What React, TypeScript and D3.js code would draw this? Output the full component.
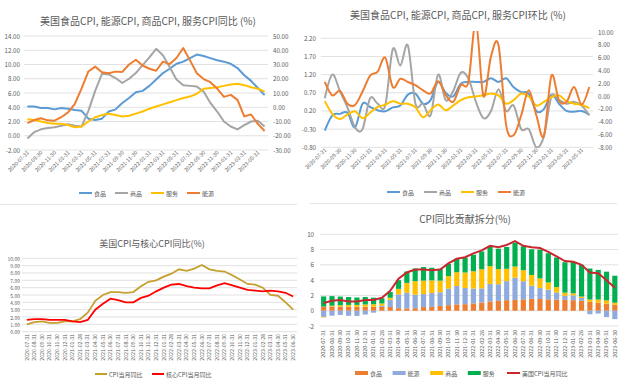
import React from "react";
import * as d3 from "d3";

const dates = [
  "2020-07-31", "2020-08-31", "2020-09-30", "2020-10-31", "2020-11-30", "2020-12-31",
  "2021-01-31", "2021-02-28", "2021-03-31", "2021-04-30", "2021-05-31", "2021-06-30",
  "2021-07-31", "2021-08-31", "2021-09-30", "2021-10-31", "2021-11-30", "2021-12-31",
  "2022-01-31", "2022-02-28", "2022-03-31", "2022-04-30", "2022-05-31", "2022-06-30",
  "2022-07-31", "2022-08-31", "2022-09-30", "2022-10-31", "2022-11-30", "2022-12-31",
  "2023-01-31", "2023-02-28", "2023-03-31", "2023-04-30", "2023-05-31", "2023-06-30",
];

// Top-left: YoY (%)
const foodYoY = [4.1, 4.1, 3.9, 3.9, 3.7, 3.9, 3.8, 3.6, 3.5, 2.4, 2.2, 2.4, 3.4, 3.7, 4.6, 5.3, 6.1, 6.3, 7.0, 7.9, 8.8, 9.4, 10.1, 10.4, 10.9, 11.4, 11.2, 10.9, 10.6, 10.4, 10.1, 9.5, 8.5, 7.7, 6.7, 5.7];
const goodsYoY = [-0.4, 0.5, 0.9, 1.1, 1.2, 1.4, 1.6, 1.4, 1.3, 3.5, 6.3, 8.7, 8.6, 8.1, 7.4, 8.0, 8.8, 9.9, 11.0, 12.2, 11.3, 9.6, 7.9, 7.1, 7.0, 6.9, 6.2, 4.6, 3.4, 2.0, 1.3, 0.9, 1.5, 2.0, 2.1, 1.3];
const servYoY = [2.3, 2.2, 2.0, 1.8, 1.7, 1.7, 1.5, 1.2, 1.3, 2.0, 2.6, 2.9, 3.1, 2.9, 2.7, 2.8, 3.1, 3.4, 3.8, 4.1, 4.4, 4.7, 5.0, 5.3, 5.5, 5.9, 6.6, 6.7, 6.8, 7.0, 7.2, 7.3, 7.1, 6.8, 6.6, 6.2];
const energyYoY = [-11.2, -9.0, -7.7, -9.2, -9.4, -7.0, -3.6, 2.4, 13.2, 25.1, 28.5, 24.5, 23.8, 25.0, 24.8, 30.0, 33.3, 29.3, 27.0, 25.6, 32.0, 30.3, 34.6, 41.6, 32.9, 23.8, 19.8, 17.6, 13.1, 7.3, 8.7, 5.2, -6.4, -5.1, -11.7, -16.7];

// Top-right: MoM (%)
const foodMoM = [-0.34, 0.08, 0.12, 0.15, -0.25, 0.4, 0.31, 0.22, 0.19, 0.3, 0.35, 0.65, 0.68, 0.4, 0.5, 1.0, 0.7, 0.6, 0.95, 1.0, 1.0, 1.0, 1.1, 1.0, 1.1, 0.85, 0.72, 0.68, 0.2, 0.25, 0.65, 0.4, 0.2, 0.18, 0.2, 0.1];
const goodsMoM = [0.55, 1.2, 0.75, 0.3, -0.25, -0.3, 0.55, 0.4, 0.35, 1.9, 1.45, 2.0, 0.4, 0.4, 0.08, 1.2, 0.5, 0.75, 1.25, 1.1, 0.45, 0.0, 0.2, 0.8, 0.2, 0.35, -0.3, -0.3, -0.8, -0.5, 0.6, 0.5, 0.4, 0.45, 0.35, 0.08];
const servMoM = [0.47, 0.12, -0.02, 0.1, 0.19, 0.0, 0.15, 0.31, 0.37, 0.47, 0.4, 0.4, 0.3, 0.03, 0.22, 0.38, 0.22, 0.35, 0.5, 0.58, 0.6, 0.63, 0.68, 0.63, 0.4, 0.5, 0.68, 0.6, 0.35, 0.45, 0.58, 0.63, 0.47, 0.4, 0.37, 0.28];
const energyMoM = [2.2, 0.1, 0.8, -1.2, -1.4, 0.7, 3.2, 3.8, 6.0, 1.4, 2.7, 2.2, 1.7, 0.9, 0.4, 2.3, 0.2, -0.9, 1.7, 2.2, 11.5, 0.0, 6.2, 7.9, -4.5, -6.1, -3.0, 0.9, -3.0, -6.2, 3.2, -0.7, -0.9, 1.4, -1.3, 1.4];

// Bottom-left: CPI and core CPI YoY (%)
const cpiYoY = [1.0, 1.3, 1.4, 1.2, 1.2, 1.4, 1.4, 1.7, 2.6, 4.2, 5.0, 5.4, 5.4, 5.3, 5.4, 6.2, 6.8, 7.0, 7.5, 7.9, 8.5, 8.3, 8.6, 9.1, 8.5, 8.3, 8.2, 7.7, 7.1, 6.5, 6.4, 6.0, 5.0, 4.9, 4.0, 3.0];
const coreYoY = [1.6, 1.7, 1.7, 1.6, 1.6, 1.6, 1.4, 1.3, 1.6, 3.0, 3.8, 4.5, 4.3, 4.0, 4.0, 4.6, 4.9, 5.5, 6.0, 6.4, 6.5, 6.2, 6.0, 5.9, 5.9, 6.3, 6.6, 6.3, 6.0, 5.7, 5.6, 5.5, 5.6, 5.5, 5.3, 4.8];

// Bottom-right: contributions (pct pts)
const contribFood = [0.56, 0.56, 0.53, 0.53, 0.51, 0.53, 0.52, 0.49, 0.48, 0.33, 0.30, 0.33, 0.47, 0.51, 0.63, 0.73, 0.84, 0.86, 0.96, 1.08, 1.21, 1.29, 1.38, 1.42, 1.49, 1.56, 1.53, 1.49, 1.45, 1.42, 1.38, 1.30, 1.16, 1.05, 0.92, 0.78];
const contribEnergy = [-0.81, -0.65, -0.55, -0.66, -0.68, -0.50, -0.26, 0.17, 0.95, 1.81, 2.05, 1.76, 1.71, 1.80, 1.79, 2.16, 2.40, 2.11, 1.94, 1.84, 2.30, 2.18, 2.49, 2.90, 2.37, 1.71, 1.43, 1.27, 0.94, 0.53, 0.63, 0.37, -0.46, -0.37, -0.84, -1.10];
const contribGoods = [-0.08, 0.10, 0.18, 0.23, 0.25, 0.29, 0.33, 0.29, 0.27, 0.72, 1.29, 1.78, 1.76, 1.66, 1.52, 1.64, 1.80, 2.03, 2.26, 2.50, 2.32, 1.97, 1.62, 1.46, 1.44, 1.41, 1.27, 0.94, 0.70, 0.41, 0.27, 0.18, 0.31, 0.41, 0.43, 0.27];
const contribServ = [1.31, 1.25, 1.14, 1.03, 0.97, 0.97, 0.86, 0.68, 0.74, 1.14, 1.48, 1.65, 1.77, 1.65, 1.54, 1.60, 1.77, 1.94, 2.17, 2.34, 2.51, 2.68, 2.85, 3.12, 3.14, 3.36, 3.76, 3.82, 3.88, 3.99, 4.10, 4.16, 4.05, 3.88, 3.76, 3.53];

const FONT = "'Noto Sans CJK SC', 'Noto Sans', 'Liberation Sans', sans-serif";
const TXT = "#595959";
const GRID = "#D9D9D9";
const BLUE = "#5B9BD5";
const GRAY = "#A5A5A5";
const YELLOW = "#FFC000";
const ORANGE = "#ED7D31";
const GOLD = "#C5A02F";
const RED = "#FF0000";
const LBLUE = "#8FAADC";
const GREEN = "#00B050";
const DRED = "#C8282D";

type Series = { name: string; data: number[]; color: string; right: boolean };

function LineLegend({ items, x0, step, y }: { items: { name: string; color: string }[]; x0: number; step: number; y: number }) {
  return (
    <g>
      {items.map((it, k) => (
        <g key={it.name} transform={`translate(${x0 + k * step},${y})`}>
          <line x1={0} x2={13} y1={0} y2={0} stroke={it.color} strokeWidth={2} />
          <text x={15} y={0} dominantBaseline="central" fontSize={6} fill={TXT}>{it.name}</text>
        </g>
      ))}
    </g>
  );
}

function DualChart(props: {
  title: string; titleX: number; titleY: number;
  px0: number; px1: number; top: number; bottom: number;
  leftDomain: [number, number]; leftTop: number; leftTicks: number[];
  rightDomain: [number, number]; rightTicks: number[];
  leftLabelX: number; rightLabelX: number;
  series: Series[]; smooth: boolean; clipId: string;
  legendX: number; legendStep: number; legendY: number;
}) {
  const p = props;
  const x = d3.scaleBand<string>().domain(dates).range([p.px0, p.px1]);
  const cx = (i: number) => (x(dates[i]) as number) + x.bandwidth() / 2;
  const yL = d3.scaleLinear().domain(p.leftDomain).range([p.bottom, p.leftTop]);
  const yR = d3.scaleLinear().domain(p.rightDomain).range([p.bottom, p.top]);
  const curve = p.smooth ? d3.curveCardinal.tension(0) : d3.curveLinear;
  const mk = (y: d3.ScaleLinear<number, number>) =>
    d3.line<number>().x((_, i) => cx(i)).y((d) => y(d)).curve(curve);
  const lL = mk(yL);
  const lR = mk(yR);
  return (
    <g>
      <defs>
        <clipPath id={p.clipId}>
          <rect x={p.px0} y={p.top - 1} width={p.px1 - p.px0} height={p.bottom - p.top + 2} />
        </clipPath>
      </defs>
      <text x={p.titleX} y={p.titleY} textAnchor="middle" fontSize={10} fill={TXT}>{p.title}</text>
      {p.leftTicks.map((t) => (
        <g key={"l" + t}>
          <line x1={p.px0} x2={p.px1} y1={yL(t)} y2={yL(t)} stroke={GRID} strokeWidth={0.8} />
          <text x={p.leftLabelX} y={yL(t)} textAnchor="end" dominantBaseline="central" fontSize={6.2} fill={TXT}>{t.toFixed(2)}</text>
        </g>
      ))}
      {p.rightTicks.map((t) => (
        <text key={"r" + t} x={p.rightLabelX} y={yR(t)} dominantBaseline="central" fontSize={6.2} fill={TXT}>{t.toFixed(2)}</text>
      ))}
      {dates.map((d, i) => i % 2 === 0 ? (
        <text key={d} transform={`translate(${cx(i) + 2},${p.bottom + 3}) rotate(-45)`} textAnchor="end" fontSize={5.3} fill={TXT}>{d}</text>
      ) : null)}
      <g clipPath={`url(#${p.clipId})`}>
        {p.series.map((s) => (
          <path key={s.name} d={(s.right ? lR : lL)(s.data) || ""} fill="none" stroke={s.color} strokeWidth={2} strokeLinejoin="round" />
        ))}
      </g>
      <LineLegend items={p.series.map((s) => ({ name: s.name, color: s.color }))} x0={p.legendX} step={p.legendStep} y={p.legendY} />
    </g>
  );
}

function BottomLeft() {
  const x = d3.scaleBand<string>().domain(dates).range([23, 297]);
  const cx = (i: number) => (x(dates[i]) as number) + x.bandwidth() / 2;
  const y = d3.scaleLinear().domain([0, 10]).range([331.7, 258.3]);
  const line = d3.line<number>().x((_, i) => cx(i)).y((d) => y(d));
  const ticks = d3.range(0, 10.01, 1);
  return (
    <g>
      <text x={152} y={246.5} textAnchor="middle" fontSize={9} fill={TXT}>美国CPI与核心CPI同比(%)</text>
      {ticks.map((t) => (
        <g key={t}>
          <line x1={22} x2={297} y1={y(t)} y2={y(t)} stroke={GRID} strokeWidth={0.8} />
          <text x={20} y={y(t)} textAnchor="end" dominantBaseline="central" fontSize={5} fill={TXT}>{t.toFixed(2)}</text>
        </g>
      ))}
      {dates.map((d, i) => (
        <text key={d} transform={`translate(${cx(i) + 1.8},${334}) rotate(-90)`} textAnchor="end" fontSize={5.2} fill={TXT}>{d}</text>
      ))}
      <path d={line(cpiYoY) || ""} fill="none" stroke={GOLD} strokeWidth={1.8} />
      <path d={line(coreYoY) || ""} fill="none" stroke={RED} strokeWidth={1.8} />
      <g transform="translate(95,374)">
        <line x1={0} x2={12} stroke={GOLD} strokeWidth={2} />
        <text x={14} dominantBaseline="central" fontSize={6} fill={TXT}>CPI当月同比</text>
      </g>
      <g transform="translate(152,374)">
        <line x1={0} x2={12} stroke={RED} strokeWidth={2} />
        <text x={14} dominantBaseline="central" fontSize={6} fill={TXT}>核心CPI当月同比</text>
      </g>
    </g>
  );
}

function BottomRight() {
  const x = d3.scaleBand<string>().domain(dates).range([319.5, 619]).paddingInner(0.38).paddingOuter(0.19);
  const cx = (i: number) => (x(dates[i]) as number) + x.bandwidth() / 2;
  const y = d3.scaleLinear().domain([-2, 10]).range([326, 234.3]);
  const keys = ["食品", "能源", "商品", "服务"];
  const colors = [ORANGE, LBLUE, YELLOW, GREEN];
  const rows = dates.map((d, i) => ({
    date: d, 食品: contribFood[i], 能源: contribEnergy[i], 商品: contribGoods[i], 服务: contribServ[i],
  }));
  const stack = d3.stack<any>().keys(keys).offset(d3.stackOffsetDiverging);
  const layers = stack(rows);
  const line = d3.line<number>().x((_, i) => cx(i)).y((d) => y(d));
  const ticks = d3.range(-2, 10.01, 2);
  return (
    <g>
      <text x={465} y={222.5} textAnchor="middle" fontSize={10} fill={TXT}>CPI同比贡献拆分(%)</text>
      {ticks.map((t) => (
        <g key={t}>
          <line x1={320} x2={618} y1={y(t)} y2={y(t)} stroke={GRID} strokeWidth={0.8} />
          <text x={314} y={y(t)} textAnchor="end" dominantBaseline="central" fontSize={6.2} fill={TXT}>{t}</text>
        </g>
      ))}
      {layers.map((layer, k) => (
        <g key={keys[k]} fill={colors[k]}>
          {layer.map((seg, i) => (
            <rect key={i} x={x(dates[i]) as number} width={x.bandwidth()}
              y={y(Math.max(seg[0], seg[1]))} height={Math.abs(y(seg[0]) - y(seg[1]))} />
          ))}
        </g>
      ))}
      <path d={line(cpiYoY) || ""} fill="none" stroke={DRED} strokeWidth={2} />
      {dates.map((d, i) => (
        <text key={d} transform={`translate(${cx(i) + 1.8},${330}) rotate(-90)`} textAnchor="end" fontSize={5.4} fill={TXT}>{d}</text>
      ))}
      {keys.map((k, j) => (
        <g key={k} transform={`translate(${355 + j * 37.6},373)`}>
          <rect x={0} y={-2} width={13} height={4} fill={colors[j]} />
          <text x={15} dominantBaseline="central" fontSize={6} fill={TXT}>{k}</text>
        </g>
      ))}
      <g transform="translate(507,373)">
        <line x1={0} x2={13} stroke={DRED} strokeWidth={2} />
        <text x={15} dominantBaseline="central" fontSize={6} fill={TXT}>美国CPI当月同比</text>
      </g>
    </g>
  );
}

export default function App() {
  const tlSeries: Series[] = [
    { name: "食品", data: foodYoY, color: BLUE, right: false },
    { name: "商品", data: goodsYoY, color: GRAY, right: false },
    { name: "服务", data: servYoY, color: YELLOW, right: false },
    { name: "能源", data: energyYoY, color: ORANGE, right: true },
  ];
  const trSeries: Series[] = [
    { name: "食品", data: foodMoM, color: BLUE, right: false },
    { name: "商品", data: goodsMoM, color: GRAY, right: false },
    { name: "服务", data: servMoM, color: YELLOW, right: false },
    { name: "能源", data: energyMoM, color: ORANGE, right: true },
  ];
  return (
    <svg width={627} height={382} style={{ position: "absolute", left: 0, top: 0 }} fontFamily={FONT}>
      <rect width={627} height={382} fill="#fff" />
      <DualChart
        title="美国食品CPI, 能源CPI, 商品CPI, 服务CPI同比 (%)" titleX={148} titleY={24.5}
        px0={24} px1={268} top={36} bottom={150}
        leftDomain={[-2, 14]} leftTop={36} leftTicks={d3.range(-2, 14.01, 2)}
        rightDomain={[-30, 50]} rightTicks={d3.range(-30, 50.01, 10)}
        leftLabelX={20} rightLabelX={273}
        series={tlSeries} smooth={false} clipId="clipTL"
        legendX={79} legendStep={36} legendY={193}
      />
      <DualChart
        title="美国食品CPI, 能源CPI, 商品CPI, 服务CPI环比 (%)" titleX={458} titleY={19}
        px0={321} px1={593} top={32} bottom={147.3}
        leftDomain={[-0.8, 2.2]} leftTop={38.3} leftTicks={[-0.8, -0.3, 0.2, 0.7, 1.2, 1.7, 2.2]}
        rightDomain={[-8, 10]} rightTicks={d3.range(-8, 10.01, 2)}
        leftLabelX={316} rightLabelX={598}
        series={trSeries} smooth={true} clipId="clipTR"
        legendX={387} legendStep={37} legendY={192}
      />
      <line x1={0} x2={297} y1={204.5} y2={204.5} stroke="#E6E6E6" strokeWidth={1} />
      <line x1={310} x2={617} y1={203.5} y2={203.5} stroke="#E6E6E6" strokeWidth={1} />
      <BottomLeft />
      <BottomRight />
    </svg>
  );
}
